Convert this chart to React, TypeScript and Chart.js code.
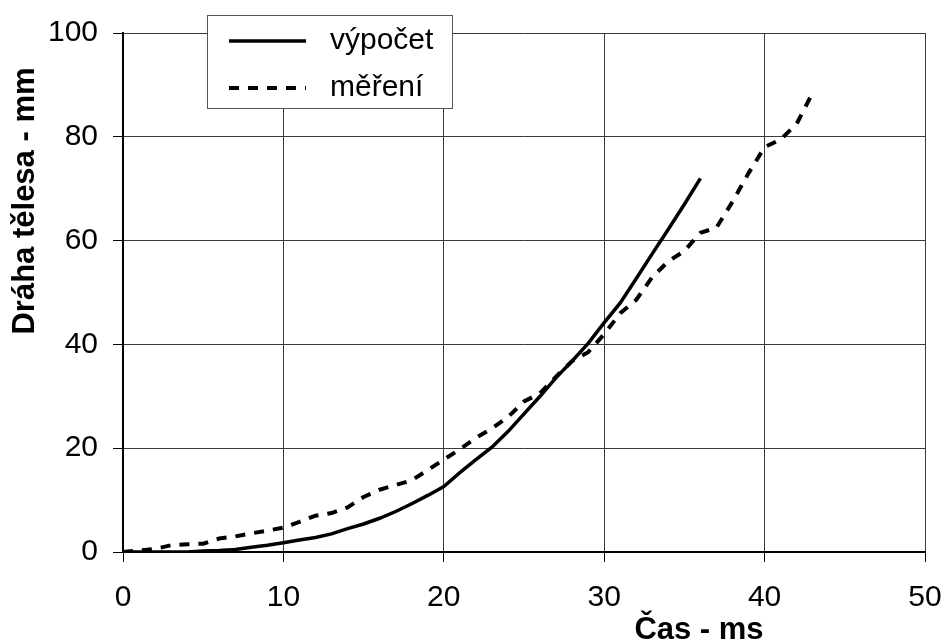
import React, { useEffect, useRef } from "react";
import { Chart, registerables } from "chart.js";

Chart.register(...registerables);

// Výpočet (calculated) – time in ms, path in mm
const calcTime = [0, 1, 2, 3, 4, 5, 6, 7, 8, 9, 10, 11, 12, 13, 14, 15, 16, 17, 18, 19, 20, 21, 22, 23, 24, 25, 26, 27, 28, 29, 30, 31, 32, 33, 34, 35, 36];
const calcPath = [0, 0, 0, 0, 0, 0.2, 0.3, 0.5, 0.9, 1.3, 1.8, 2.3, 2.8, 3.5, 4.5, 5.4, 6.5, 7.8, 9.3, 10.9, 12.6, 15.3, 17.8, 20.2, 23.2, 26.6, 30, 33.6, 36.8, 40.2, 44.2, 48, 52.7, 57.5, 62.2, 67, 72];

// Měření (measured)
const measTime = [0, 1, 2, 3, 4, 5, 6, 7, 8, 9, 10, 11, 12, 13, 14, 15, 16, 17, 18, 19, 20, 21, 22, 23, 24, 25, 26, 27, 28, 29, 30, 31, 32, 33, 34, 35, 36, 37, 38, 39, 40, 41, 42, 43];
const measPath = [0, 0.3, 0.6, 1.3, 1.5, 1.6, 2.6, 3, 3.6, 4.1, 4.7, 5.8, 7, 7.5, 8.6, 10.6, 12, 12.9, 13.8, 15.8, 17.8, 19.8, 22, 23.8, 26, 29, 30.6, 33.8, 36.8, 38.5, 42, 46, 48.6, 53, 56, 58, 61.5, 62.5, 67.5, 73, 78, 79.5, 82.5, 88.5];

const seriesLabels = ["výpočet", "měření"];
const xTitle = "Čas - ms";
const yTitle = "Dráha tělesa - mm";

const FONT = "'Liberation Sans', Arial, sans-serif";

const decorPlugin = {
  id: "decor",
  afterDraw(chart: any) {
    const ctx = chart.ctx;
    ctx.save();
    // Y title
    ctx.fillStyle = "#000";
    ctx.font = `bold 31px ${FONT}`;
    ctx.textAlign = "center";
    ctx.textBaseline = "alphabetic";
    ctx.save();
    ctx.translate(34, 201);
    ctx.rotate(-Math.PI / 2);
    ctx.fillText(yTitle, 0, 0);
    ctx.restore();
    // X title
    ctx.fillText(xTitle, 699, 639);

    // Legend box
    ctx.fillStyle = "#fff";
    ctx.fillRect(207, 15, 245, 93);
    ctx.strokeStyle = "#555";
    ctx.lineWidth = 1;
    ctx.strokeRect(207.5, 15.5, 245, 93);

    const ds = chart.data.datasets;
    const rows = [41, 88];
    rows.forEach((y, i) => {
      ctx.beginPath();
      ctx.strokeStyle = "#000";
      ctx.lineWidth = ds[i].borderWidth;
      ctx.setLineDash(ds[i].borderDash || []);
      ctx.moveTo(229, y);
      ctx.lineTo(306, y);
      ctx.stroke();
      ctx.setLineDash([]);
      ctx.fillStyle = "#000";
      ctx.font = `30px ${FONT}`;
      ctx.textAlign = "left";
      ctx.textBaseline = "middle";
      ctx.fillText(ds[i].label, 330, y);
    });
    ctx.restore();
  },
};

export default function App() {
  const ref = useRef<HTMLCanvasElement>(null);

  useEffect(() => {
    if (!ref.current) return;
    const chart = new Chart(ref.current, {
      type: "line",
      data: {
        datasets: [
          {
            label: seriesLabels[0],
            data: calcTime.map((t, i) => ({ x: t, y: calcPath[i] })),
            borderColor: "#000",
            borderWidth: 3.5,
            pointRadius: 0,
            tension: 0,
            fill: false,
          },
          {
            label: seriesLabels[1],
            data: measTime.map((t, i) => ({ x: t, y: measPath[i] })),
            borderColor: "#000",
            borderWidth: 4,
            borderDash: [10, 9],
            pointRadius: 0,
            tension: 0,
            fill: false,
          },
        ],
      },
      options: {
        responsive: false,
        animation: false,
        layout: { autoPadding: false, padding: { top: 33, right: 20, left: 0, bottom: 0 } },
        plugins: {
          legend: { display: false },
          tooltip: { enabled: false },
        },
        scales: {
          x: {
            type: "linear",
            min: 0,
            max: 50,
            ticks: {
              stepSize: 10,
              color: "#000",
              font: { family: FONT, size: 30 },
              padding: 18,
              maxRotation: 0,
            },
            grid: {
              color: "#3a3a3a",
              lineWidth: 1,
              tickLength: 10,
              tickColor: "#000",
            },
            border: { color: "#000", width: 2 },
            afterFit: (s: any) => {
              s.height = 90;
              s.paddingLeft = 0;
              s.paddingRight = 0;
            },
          },
          y: {
            type: "linear",
            min: 0,
            max: 100,
            ticks: {
              stepSize: 20,
              color: "#000",
              font: { family: FONT, size: 30 },
              padding: 15,
            },
            grid: {
              color: "#3a3a3a",
              lineWidth: 1,
              tickLength: 10,
              tickColor: "#000",
            },
            border: { color: "#000", width: 2 },
            afterFit: (s: any) => {
              s.width = 123;
              s.paddingTop = 0;
              s.paddingBottom = 0;
            },
          },
        },
      },
      plugins: [decorPlugin],
    });
    return () => chart.destroy();
  }, []);

  return (
    <div style={{ position: "fixed", left: 0, top: 0, width: 945, height: 642, background: "#fff" }}>
      <canvas ref={ref} width={945} height={642} style={{ display: "block" }} />
    </div>
  );
}
